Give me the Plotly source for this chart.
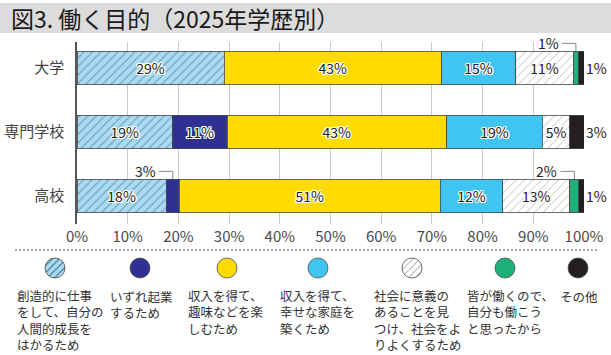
import plotly.graph_objects as go

# ---------------- data ----------------
categories = ["大学", "専門学校", "高校"]
creative = [29.0, 18.8, 17.6]   # 創造的に仕事をして、自分の人間的成長をはかるため
startup = [0.0, 10.8, 2.6]      # いずれ起業するため
hobby = [42.9, 43.3, 51.4]      # 収入を得て、趣味などを楽しむため
family = [14.6, 18.9, 12.4]     # 収入を得て、幸せな家庭を築くため
society = [11.4, 5.4, 13.2]     # 社会に意義のあることを見つけ、社会をよりよくするため
everyone = [1.0, 0.0, 1.8]      # 皆が働くので、自分も働こうと思ったから
other = [1.1, 2.8, 1.0]         # その他

tick_values = [0, 10, 20, 30, 40, 50, 60, 70, 80, 90, 100]
tick_labels = [f"{v}%" for v in tick_values]

legend_lines = [
    ["創造的に仕事", "をして、自分の", "人間的成長を", "はかるため"],
    ["いずれ起業", "するため"],
    ["収入を得て、", "趣味などを楽", "しむため"],
    ["収入を得て、", "幸せな家庭を", "築くため"],
    ["社会に意義の", "あることを見", "つけ、社会をよ", "りよくするため"],
    ["皆が働くので、", "自分も働こう", "と思ったから"],
    ["その他"],
]
title_text = "図3. 働く目的（2025年学歴別）"

# ---------------- style ----------------
W, H = 611, 355
FONT = "Noto Sans CJK JP, Noto Sans, sans-serif"
series = [
    dict(vals=creative, color="#a9dcf4", pattern=dict(shape="/", fgcolor="#35536b", bgcolor="#a9dcf4", size=6, solidity=0.18)),
    dict(vals=startup, color="#2e3192", pattern=None),
    dict(vals=hobby, color="#ffdb00", pattern=None),
    dict(vals=family, color="#40c4f0", pattern=None),
    dict(vals=society, color="#ffffff", pattern=dict(shape="/", fgcolor="#7a7a7a", bgcolor="#ffffff", size=6, solidity=0.15)),
    dict(vals=everyone, color="#1fb07a", pattern=None),
    dict(vals=other, color="#231f20", pattern=None),
]

px0, px1 = 77, 584          # x pixel of 0% and 100%
py_top, py_bot = 42, 224    # plot area
centers_px = [68, 132, 196]
unit = 64.0
yr_top = -(centers_px[0] - py_top) / unit
yr_bot = 2 + (py_bot - centers_px[2]) / unit
bar_w = 0.53

halo = ("1px 0 0 #fff, -1px 0 0 #fff, 0 1px 0 #fff, 0 -1px 0 #fff, "
        "1px 1px 0 #fff, -1px -1px 0 #fff, 1px -1px 0 #fff, -1px 1px 0 #fff")

fig = go.Figure()
for s in series:
    txt = [f"{round(v)}%" if v >= 4 else "" for v in s["vals"]]
    marker = dict(color=s["color"], line=dict(color="#4a4a4a", width=0.8))
    if s["pattern"]:
        marker["pattern"] = s["pattern"]
    fig.add_trace(go.Bar(
        y=categories, x=s["vals"], orientation="h", width=bar_w,
        marker=marker, text=txt, textposition="inside",
        insidetextanchor="middle", textangle=0,
        textfont=dict(family=FONT, size=14, color="#222222", shadow=halo),
        hoverinfo="skip", showlegend=False,
    ))

annotations = []
shapes = []

# title band
shapes.append(dict(type="rect", xref="paper", yref="paper", x0=0, x1=1,
                   y0=1 - 33 / H, y1=1 - 3 / H, fillcolor="#dcdcdc",
                   line=dict(width=0), layer="below"))
annotations.append(dict(text=title_text, xref="paper", yref="paper",
                        x=9 / W, y=1 - 18 / H, xanchor="left", yanchor="middle",
                        showarrow=False, font=dict(family=FONT, size=23, color="#1a1a1a")))

# outside labels for the last segment (その他)
for i, v in enumerate(other):
    total = sum(s["vals"][i] for s in series)
    annotations.append(dict(text=f"{round(v)}%", x=total, y=categories[i], xref="x", yref="y",
                            xanchor="center", yanchor="middle", xshift=12, showarrow=False,
                            font=dict(family=FONT, size=14, color="#222222")))

# callout labels for small segments above the bar
def callout(i, start, v):
    cx = start + v / 2
    top = i - bar_w / 2
    ty = top - 0.12
    line_len = 14 / ((px1 - px0) / 100.0)
    shapes.append(dict(type="line", xref="x", yref="y", x0=cx, x1=cx, y0=top, y1=ty,
                       line=dict(color="#8a8a8a", width=1)))
    shapes.append(dict(type="line", xref="x", yref="y", x0=cx - line_len, x1=cx, y0=ty, y1=ty,
                       line=dict(color="#8a8a8a", width=1)))
    annotations.append(dict(text=f"{round(v)}%", x=cx - line_len, y=ty, xref="x", yref="y",
                            xanchor="right", yanchor="middle", xshift=-1, showarrow=False,
                            font=dict(family=FONT, size=14, color="#222222")))

for i in range(3):
    starts = [0]
    for s in series[:-1]:
        starts.append(starts[-1] + s["vals"][i])
    for k in (1, 5):
        v = series[k]["vals"][i]
        if 0 < v < 4:
            callout(i, starts[k], v)

# dashed separator
shapes.append(dict(type="line", xref="paper", yref="paper", x0=15 / W, x1=598 / W,
                   y0=1 - 250 / H, y1=1 - 250 / H,
                   line=dict(color="#8c8c8c", width=1.5, dash="2px,2px")))

# custom legend (pie circles + text)
circle_x = [55, 140, 227, 318, 412, 505, 578]
text_x = [15, 108, 186, 278, 372, 465, 558]
cy, r = 268, 10
leg_size = 12.5
line_h = leg_size * 1.3
for k, s in enumerate(series):
    marker = dict(colors=[s["color"]], line=dict(color="#4a4a4a", width=0.8))
    if s["pattern"]:
        p = dict(s["pattern"])
        p["size"] = 5
        marker["pattern"] = p
    fig.add_trace(go.Pie(
        values=[1], labels=[str(k)], sort=False, textinfo="none", hoverinfo="skip",
        showlegend=False, marker=marker,
        domain=dict(x=[(circle_x[k] - r) / W, (circle_x[k] + r) / W],
                    y=[1 - (cy + r) / H, 1 - (cy - r) / H]),
    ))
    n = len(legend_lines[k])
    block_center = 296 + (n - 1) * line_h / 2
    annotations.append(dict(text="<br>".join(legend_lines[k]), xref="paper", yref="paper",
                            x=text_x[k] / W, y=1 - block_center / H, align="left",
                            xanchor="left", yanchor="middle", showarrow=False,
                            font=dict(family=FONT, size=leg_size, color="#333333")))

fig.update_layout(
    width=W, height=H, autosize=False,
    margin=dict(l=0, r=0, t=0, b=0),
    paper_bgcolor="#ffffff", plot_bgcolor="#ffffff",
    barmode="stack", hovermode=False,
    uniformtext=dict(minsize=14, mode="show"),
    font=dict(family=FONT),
    xaxis=dict(domain=[px0 / W, px1 / W], range=[0, 100], tickvals=tick_values,
               ticktext=tick_labels, showgrid=True, gridcolor="#cccccc", gridwidth=1,
               zeroline=False, showline=False, ticks="", ticklabelstandoff=2,
               tickfont=dict(family=FONT, size=15, color="#4a4a4a"), automargin=False,
               fixedrange=True),
    yaxis=dict(domain=[1 - py_bot / H, 1 - py_top / H], range=[yr_bot, yr_top],
               type="category", categoryorder="array", categoryarray=categories,
               showgrid=False, zeroline=False, showline=True, linecolor="#555555",
               linewidth=1.5, ticks="", ticklabelstandoff=8,
               tickfont=dict(family=FONT, size=15, color="#444444"), automargin=False,
               fixedrange=True),
    shapes=shapes, annotations=annotations,
)

fig.write_html("out.html", post_script="document.body.style.margin='0';",
               config={"displayModeBar": False})
